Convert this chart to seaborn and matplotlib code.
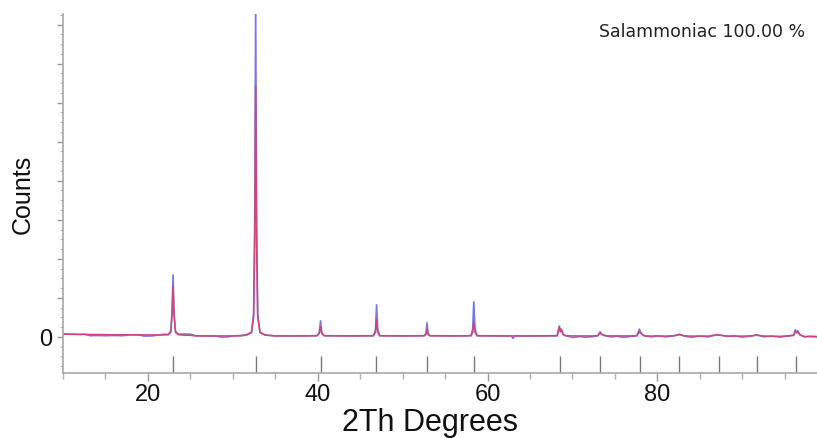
import numpy as np
import pandas as pd
import matplotlib
matplotlib.use("Agg")
import matplotlib.pyplot as plt
from matplotlib.ticker import MultipleLocator, FixedLocator, FuncFormatter
import seaborn as sns

# Powder pattern: 2-theta (deg), observed and calculated counts
tth = [10.0, 11.0, 12.0, 12.5, 13.2, 14.0, 15.0, 16.0, 17.0, 18.0, 19.0, 19.5,
       20.5, 21.5, 22.0, 22.4, 22.7, 22.85, 22.96, 23.07, 23.25, 23.6, 24.2, 25.0,
       25.6, 26.5, 28.0, 28.6, 29.4, 30.0, 31.0, 31.6, 32.2, 32.45, 32.58, 32.69,
       32.8, 32.93, 33.2, 33.8, 35.0, 38.0, 39.9, 40.18, 40.33, 40.48, 40.75, 44.0,
       46.55, 46.8, 46.93, 47.06, 47.3, 50.0, 52.55, 52.75, 52.87, 53.0, 53.2, 56.0,
       58.05, 58.25, 58.38, 58.52, 58.75, 61.0, 62.8, 63.0, 63.2, 66.0, 68.2, 68.45,
       68.58, 68.7, 68.9, 69.2, 70.0, 70.8, 71.5, 72.3, 73.0, 73.25, 73.4, 73.55,
       73.85, 74.5, 75.3, 76.0, 76.8, 77.6, 77.88, 78.05, 78.2, 78.5, 79.3, 80.0,
       81.0, 82.0, 82.6, 83.2, 84.0, 85.0, 86.0, 87.0, 87.5, 88.3, 89.0, 90.0,
       91.0, 91.7, 92.5, 93.5, 94.5, 95.5, 96.05, 96.25, 96.4, 96.55, 96.8, 97.3,
       98.0, 98.8]
obs = [70, 65, 60, 70, 30, 35, 30, 35, 30, 55, 50, 20,
       25, 55, 70, 60, 160, 700, 1590, 650, 140, 70, 75, 70,
       30, 25, 20, -5, 0, 25, 35, 55, 120, 600, 3000, 8500,
       3000, 600, 120, 50, 25, 25, 30, 110, 410, 110, 30, 25,
       30, 180, 820, 200, 30, 25, 30, 90, 360, 90, 30, 25,
       30, 200, 900, 210, 30, 25, 25, -40, 25, 25, 30, 280,
       140, 200, 60, 30, -15, 10, -10, 5, 30, 130, 70, 60,
       30, 0, 15, -10, 10, 30, 200, 110, 70, 25, 0, 30,
       0, 30, 70, 20, -10, 20, 0, 60, 40, 10, 30, -5,
       20, 50, 5, 20, -5, 30, 40, 180, 120, 160, 50, 0,
       15, 0]
calc = [75, 70, 65, 65, 62, 60, 58, 56, 55, 54, 52, 52,
        50, 50, 52, 55, 120, 600, 1290, 560, 110, 55, 45, 40,
        25, 25, 25, 25, 25, 25, 30, 45, 110, 500, 2400, 6420,
        2400, 500, 110, 45, 25, 25, 30, 80, 260, 80, 30, 25,
        30, 110, 460, 120, 30, 25, 30, 60, 200, 60, 30, 25,
        30, 110, 380, 120, 30, 25, 25, 25, 25, 25, 30, 250,
        130, 180, 60, 30, 25, 25, 25, 25, 30, 110, 65, 55,
        30, 25, 25, 25, 25, 30, 130, 90, 60, 25, 20, 20,
        20, 30, 55, 25, 20, 20, 20, 50, 40, 20, 20, 20,
        25, 45, 20, 15, 15, 25, 40, 140, 100, 120, 50, 10,
        10, 10]

# Reflection positions of the fitted phase (2-theta, deg)
reflections = [22.96, 32.69, 40.33, 46.91, 52.85, 58.36, 68.5, 73.3, 78.0,
               82.6, 87.2, 91.7, 96.3]

phase_label = "Salammoniac 100.00 %"
x_ticks = [20, 40, 60, 80]

sns.set_theme(style="white")
plt.rcParams["font.family"] = ["Liberation Sans", "DejaVu Sans"]

W, H = 817, 439
fig = plt.figure(figsize=(W / 100, H / 100), dpi=100)
left, right, top, bottom = 63, 817, 15, 374
ax = fig.add_axes([left / W, 1 - bottom / H, (right - left) / W, (bottom - top) / H])

df = pd.DataFrame({"tth": tth, "obs": obs, "calc": calc})
sns.lineplot(data=df, x="tth", y="obs", ax=ax, color="#7878e4", lw=1.2,
             sort=False, estimator=None)
sns.lineplot(data=df, x="tth", y="calc", ax=ax, color="#d0457c", lw=1.1,
             sort=False, estimator=None)

# reflection markers in the strip under the pattern
ax.vlines(reflections, -930, -480, color="#7a7a7a", lw=1.0)

ax.set_xlim(10, 98.8)
ax.set_ylim(-925, 8270)

ax.xaxis.set_major_locator(FixedLocator(x_ticks))
ax.xaxis.set_minor_locator(MultipleLocator(5))
ax.yaxis.set_major_locator(MultipleLocator(1000))
ax.yaxis.set_minor_locator(MultipleLocator(250))
ax.yaxis.set_major_formatter(FuncFormatter(lambda v, p: "0" if abs(v) < 1e-6 else ""))

ax.tick_params(axis="x", which="major", direction="out", length=6, width=1,
               color="#9a9a9a", labelsize=17, pad=1.5, labelcolor="#111111")
ax.tick_params(axis="x", which="minor", direction="out", length=4, width=1,
               color="#b0b0b0")
ax.tick_params(axis="y", which="major", direction="out", length=4, width=1,
               color="#9a9a9a", labelsize=17, pad=4, labelcolor="#111111")
ax.tick_params(axis="y", which="minor", direction="out", length=2.5, width=0.8,
               color="#b0b0b0")
ax.tick_params(bottom=True, left=True, which="both")

for s in ["top", "right"]:
    ax.spines[s].set_visible(False)
for s in ["left", "bottom"]:
    ax.spines[s].set_color("#a8a8a8")
    ax.spines[s].set_linewidth(1.2)

ax.set_xlabel("2Th Degrees", fontsize=22, color="#111111", va="center")
ax.xaxis.set_label_coords((430 - left) / (right - left), (bottom - 423) / (bottom - top))
ax.set_ylabel("Counts", fontsize=18, color="#111111", va="center")
ax.yaxis.set_label_coords((23 - left) / (right - left), (bottom - 194) / (bottom - top))

fig.text(805 / W, 1 - 32 / H, phase_label, ha="right", va="center",
         fontsize=12.5, color="#222222", family=["DejaVu Sans"])

fig.savefig("out.png", dpi=100)
